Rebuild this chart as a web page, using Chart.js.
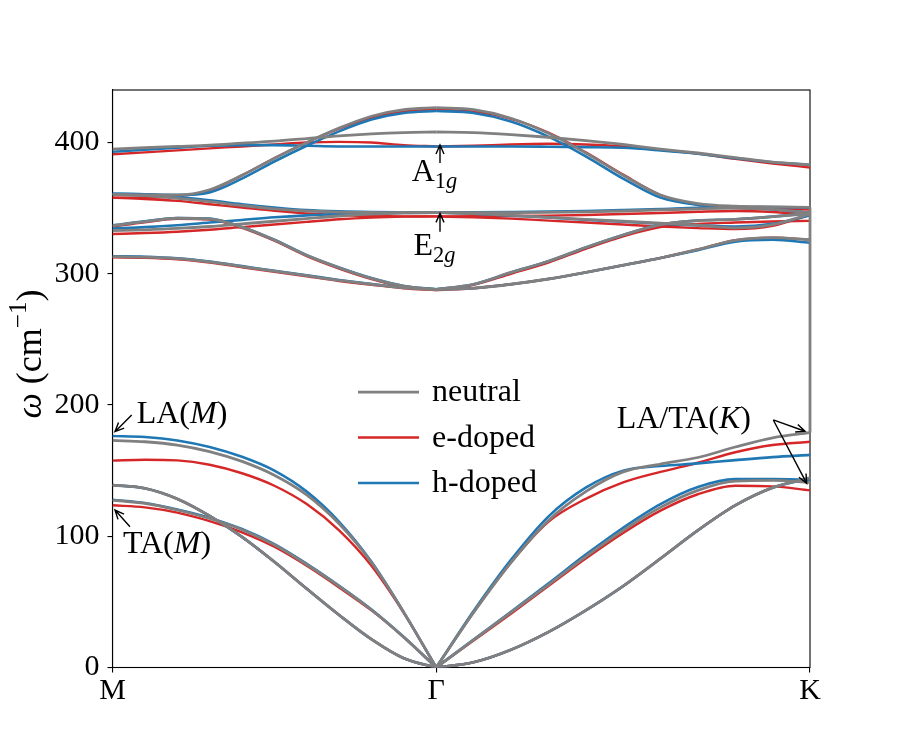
<!DOCTYPE html>
<html><head><meta charset="utf-8">
<script src="https://cdn.jsdelivr.net/npm/chart.js@4.4.0/dist/chart.umd.min.js"></script>
<style>html,body{margin:0;padding:0;background:#fff;} canvas{display:block;}</style>
</head><body>
<canvas id="c" width="900" height="750" style="width:900px;height:750px"></canvas>
<script>
// ---- path coordinates (M = 0, Gamma = 1, K = 1 + 2/sqrt(3)) ----
const qMG = [0, 0.1, 0.2, 0.3, 0.4, 0.5, 0.6, 0.7, 0.8, 0.9, 1.0];
const qGK = [1.0, 1.1155, 1.2309, 1.3464, 1.4619, 1.5774, 1.6928, 1.8083, 1.9238, 2.0392, 2.1547];
const xTickValues = [0, 1, 2.1547];
const xTickLabels = ['M', 'Γ', 'K'];
const yTickValues = [0, 100, 200, 300, 400];
const seriesNames = ['neutral', 'e-doped', 'h-doped'];

// branches: ZA, TA, LA, O1..O6  (cm^-1)
const neutralMG = [
  [139, 136.5, 128.5, 115.5, 99.5, 80.5, 60, 40, 21.5, 7, 0],
  [127.6, 125, 120, 113.5, 105, 93.5, 78.5, 62, 44, 23, 0],
  [173, 172, 169.5, 164.5, 157, 146.5, 131.5, 109.5, 80, 42, 0],
  [313, 312.7, 311.5, 309, 305.5, 302, 298.5, 295, 292, 289.3, 288],
  [336.6, 339.7, 342.3, 341.8, 335.5, 325.7, 314, 304.6, 296.5, 290.5, 288],
  [332.8, 333.5, 334.5, 336, 338, 340, 342, 344, 345.5, 346.3, 346.5],
  [360.5, 359.5, 357.5, 355, 352, 349.5, 347.8, 347, 346.7, 346.5, 346.5],
  [360.5, 360, 360, 364, 375, 388, 400, 411, 420, 425, 426.5],
  [395, 396, 397, 398, 399.5, 401, 403, 405, 406.5, 407.5, 408]
];
const neutralGK = [
  [0, 4, 13.5, 27, 43.5, 62, 83, 104.5, 123.5, 137, 144.5],
  [0, 21, 42, 63, 84.5, 104.5, 122, 135, 142, 142.5, 141],
  [0, 42, 80, 112, 134, 149, 155, 160, 168, 175, 179],
  [288, 289, 292, 296, 301, 306.5, 312, 318.5, 325.5, 327.5, 326],
  [288, 292, 301, 309.5, 320, 329.5, 337.5, 340.5, 341.5, 343.5, 346],
  [346.5, 346.5, 346.6, 346.8, 347.2, 347.8, 348.6, 349.5, 350, 349, 346.5],
  [346.5, 345.8, 344.5, 343, 341.5, 340, 338.5, 337, 335, 337.5, 345.5],
  [426.5, 425, 418.5, 407, 392, 375, 360, 353.5, 351.5, 351, 350.5],
  [408, 407.5, 406, 404, 401.5, 398.5, 395, 392, 388.5, 385, 383]
];
const neutralJumpK = [179, 350.5];

const eDopedMG = [
  [139, 136.5, 128.5, 115.5, 99.5, 80.5, 60, 40, 21.5, 7, 0],
  [123.6, 122, 118, 111.5, 103, 92, 77.5, 61, 43.5, 23, 0],
  [157.6, 158.3, 157.8, 154.5, 148, 138.5, 124.5, 104.5, 77.5, 41.5, 0],
  [312.5, 312.2, 311, 308.5, 305, 301.5, 298, 294.5, 291.5, 289, 287.5],
  [336, 339.2, 341.8, 341.3, 335, 325.2, 313.5, 304, 296, 290, 287.5],
  [330.3, 331, 332, 333.5, 335.5, 337.5, 339.5, 341.5, 342.8, 343.5, 343.7],
  [358, 357, 355.5, 353, 350.5, 348, 346, 344.8, 344, 343.7, 343.7],
  [358, 358, 359, 363.5, 375, 388, 400, 410.5, 419, 423.5, 425],
  [391, 392.5, 394, 395.5, 397, 398.5, 400, 400.5, 400, 398, 397]
];
const eDopedGK = [
  [0, 4, 13.5, 27, 43.5, 62, 83, 104.5, 123.5, 137, 144.5],
  [0, 20.5, 41, 62, 83, 102.5, 119.5, 132, 138.5, 138, 135],
  [0, 42, 80, 111, 128.5, 141, 149, 156, 164, 169.5, 172],
  [287.5, 289, 292, 296, 301, 306.5, 312, 318.5, 325.5, 327.5, 326],
  [287.5, 291.5, 300, 308.5, 319, 328.5, 335.5, 338, 339, 339.8, 340.3],
  [343.7, 343.8, 344, 344.3, 344.8, 345.5, 346.3, 347.2, 347.8, 347, 345],
  [343.7, 343, 342, 340.5, 339, 337.5, 336, 334.8, 334, 336.5, 345],
  [425, 423.5, 418, 407.5, 392.5, 375.5, 360, 352.5, 350, 349.5, 349],
  [397, 397.5, 398.5, 399, 398.5, 397, 394.5, 391.5, 387.5, 384, 381]
];

const hDopedMG = [
  [139, 136.5, 128.5, 115.5, 99.5, 80.5, 60, 40, 21.5, 7, 0],
  [127.8, 125.3, 120.3, 114, 105.5, 94, 79, 62.3, 44.2, 23.2, 0],
  [176.4, 175.6, 173, 168, 160.5, 150, 134, 111, 80.5, 42, 0],
  [313.3, 313, 311.8, 309.3, 305.8, 302.3, 298.8, 295.3, 292.2, 289.5, 288.2],
  [336.8, 339.9, 342.5, 342, 335.7, 325.9, 314.2, 304.8, 296.7, 290.7, 288.2],
  [334.5, 335.5, 337, 339, 341, 343, 344.5, 345.5, 346.2, 346.6, 346.7],
  [361, 360.5, 358.5, 356, 353, 350.5, 348.5, 347.5, 347, 346.8, 346.7],
  [361, 360.5, 360, 362, 372.5, 385.5, 397.5, 408.5, 417.5, 422.5, 424],
  [393, 394.5, 396, 397.5, 398, 398, 397.5, 397, 397, 397, 397]
];
const hDopedGK = [
  [0, 4, 13.5, 27, 43.5, 62, 83, 104.5, 123.5, 137, 144],
  [0, 21.3, 42.5, 64, 86, 106.5, 124.5, 137.5, 143.5, 143.5, 143],
  [0, 43, 82, 115, 137, 150, 153.5, 155.5, 158, 160.3, 162],
  [288.2, 289, 292, 296, 301, 306.5, 312, 318, 324.5, 326, 323.5],
  [288.2, 292, 301, 309.5, 320, 329.5, 337.5, 340.5, 341.5, 343.5, 346],
  [346.7, 346.8, 347, 347.3, 347.8, 348.5, 349.3, 350.2, 350.5, 349, 346.5],
  [346.7, 345.8, 344.3, 342.8, 341.2, 339.6, 338.2, 336.8, 336, 338, 344.5],
  [424, 422.5, 416, 404.5, 389.5, 372.5, 358, 352.5, 351, 350.8, 350.5],
  [397, 397, 397, 396.8, 396.5, 396, 394, 391.5, 388, 385, 383]
];

// ---- styling ----
const FONT = '"Liberation Serif", "Times New Roman", serif';
const FS = 30;       // tick labels
const FS_TXT = 32;   // annotations / legend
const FS_YL = 36;    // y-axis label
const colors = { neutral: '#808080', edoped: '#d62728', hdoped: '#1f77b4' };
const widths = { neutral: 2.8, edoped: 2.4, hdoped: 2.6 };

function branchSets(arrs, q, label, color, width, order) {
  return arrs.map(vals => ({
    label: label,
    data: vals.map((v, i) => ({ x: q[i], y: v })),
    borderColor: color, borderWidth: width, pointRadius: 0, fill: false,
    cubicInterpolationMode: 'monotone', order: order, clip: 0
  }));
}

const datasets = [].concat(
  branchSets(neutralMG, qMG, seriesNames[0], colors.neutral, widths.neutral, 0),
  branchSets(neutralGK, qGK, seriesNames[0], colors.neutral, widths.neutral, 0),
  [{ label: seriesNames[0], data: neutralJumpK.map(v => ({ x: qGK[qGK.length - 1], y: v })),
     borderColor: colors.neutral, borderWidth: widths.neutral, pointRadius: 0, fill: false, order: 0, clip: false }],
  branchSets(hDopedMG, qMG, seriesNames[2], colors.hdoped, widths.hdoped, 1),
  branchSets(hDopedGK, qGK, seriesNames[2], colors.hdoped, widths.hdoped, 1),
  branchSets(eDopedMG, qMG, seriesNames[1], colors.edoped, widths.edoped, 2),
  branchSets(eDopedGK, qGK, seriesNames[1], colors.edoped, widths.edoped, 2)
);

function drawRich(ctx, parts, x, y, align, size) {
  let w = 0;
  const items = parts.map(p => {
    const s = (p.sub || p.sup) ? size * 0.7 : size;
    const font = (p.it ? 'italic ' : '') + s + 'px ' + FONT;
    ctx.font = font;
    const tw = ctx.measureText(p.t).width;
    w += tw;
    return { p, font, tw };
  });
  let cx = align === 'center' ? x - w / 2 : (align === 'right' ? x - w : x);
  ctx.textAlign = 'left';
  ctx.textBaseline = 'alphabetic';
  items.forEach(it => {
    ctx.font = it.font;
    const dy = it.p.sub ? size * 0.22 : (it.p.sup ? -size * 0.42 : 0);
    ctx.fillText(it.p.t, cx, y + dy);
    cx += it.tw;
  });
}

function drawArrow(ctx, x1, y1, x2, y2) {
  const ang = Math.atan2(y2 - y1, x2 - x1);
  const hl = 9, hw = 4;
  ctx.beginPath();
  ctx.moveTo(x1, y1); ctx.lineTo(x2, y2);
  ctx.moveTo(x2 - hl * Math.cos(ang) + hw * Math.sin(ang), y2 - hl * Math.sin(ang) - hw * Math.cos(ang));
  ctx.lineTo(x2, y2);
  ctx.lineTo(x2 - hl * Math.cos(ang) - hw * Math.sin(ang), y2 - hl * Math.sin(ang) + hw * Math.cos(ang));
  ctx.stroke();
}

// annotations in data coordinates
const annotations = [
  { parts: [{ t: 'A' }, { t: '1', sub: true }, { t: 'g', sub: true, it: true }], tx: 0.9947, ty: 370.7, align: 'center',
    arrows: [[1.0117, 384.4, 1.0117, 398.1]] },
  { parts: [{ t: 'E' }, { t: '2', sub: true }, { t: 'g', sub: true, it: true }], tx: 0.9947, ty: 314.3, align: 'center',
    arrows: [[1.0117, 332, 1.0117, 346]] },
  { parts: [{ t: 'LA(' }, { t: 'M', it: true }, { t: ')' }], tx: 0.0748, ty: 186.3, align: 'left',
    arrows: [[0.0593, 192.4, 0.0077, 179.7]] },
  { parts: [{ t: 'TA(' }, { t: 'M', it: true }, { t: ')' }], tx: 0.0324, ty: 87.2, align: 'left',
    arrows: [[0.054, 107.3, 0.0077, 120]] },
  { parts: [{ t: 'LA/TA(' }, { t: 'K', it: true }, { t: ')' }], tx: 1.5576, ty: 182.5, align: 'left',
    arrows: [[2.0413, 188.6, 2.1392, 180], [2.0413, 188.6, 2.1445, 140.3]] }
];

const framePlugin = {
  id: 'frame',
  beforeDatasetsDraw(chart) {
    const { ctx, chartArea: a } = chart;
    ctx.save();
    ctx.strokeStyle = '#000'; ctx.lineWidth = 1.1;
    ctx.strokeRect(a.left, a.top, a.right - a.left, a.bottom - a.top);
    ctx.restore();
  }
};

const overlayPlugin = {
  id: 'overlay',
  afterDraw(chart) {
    const { ctx, chartArea: a } = chart;
    const xs = chart.scales.x, ys = chart.scales.y;
    ctx.save();
    ctx.fillStyle = '#000'; ctx.strokeStyle = '#000'; ctx.lineWidth = 1.4;
    annotations.forEach(an => {
      drawRich(ctx, an.parts, xs.getPixelForValue(an.tx), ys.getPixelForValue(an.ty), an.align, FS_TXT);
      an.arrows.forEach(ar => drawArrow(ctx, xs.getPixelForValue(ar[0]), ys.getPixelForValue(ar[1]),
                                         xs.getPixelForValue(ar[2]), ys.getPixelForValue(ar[3])));
    });
    // legend (inside axes, no frame)
    const leg = [[seriesNames[0], colors.neutral, widths.neutral], [seriesNames[1], colors.edoped, widths.edoped], [seriesNames[2], colors.hdoped, widths.hdoped]];
    const lx = a.left + 0.352 * (a.right - a.left);
    const ly0 = a.top + 0.523 * (a.bottom - a.top);
    leg.forEach((e, i) => {
      const y = ly0 + i * 45.5;
      ctx.strokeStyle = e[1]; ctx.lineWidth = e[2];
      ctx.beginPath(); ctx.moveTo(lx, y); ctx.lineTo(lx + 61, y); ctx.stroke();
      ctx.fillStyle = '#000';
      ctx.font = FS_TXT + 'px ' + FONT;
      ctx.textAlign = 'left'; ctx.textBaseline = 'middle';
      ctx.fillText(e[0], lx + 74, y + 1);
    });
    // y-axis label
    ctx.translate(30, 354);
    ctx.rotate(-Math.PI / 2);
    ctx.fillStyle = '#000';
    drawRich(ctx, [{ t: 'ω', it: true }, { t: ' (cm' }, { t: '−1', sup: true }, { t: ')' }], 0, 11, 'center', FS_YL);
    ctx.restore();
  }
};

new Chart(document.getElementById('c'), {
  type: 'line',
  data: { datasets },
  options: {
    responsive: false, animation: false, devicePixelRatio: 1,
    layout: { padding: { left: 0, right: 90, top: 90, bottom: 0 } },
    plugins: { legend: { display: false }, tooltip: { enabled: false } },
    scales: {
      x: {
        type: 'linear', min: 0, max: xTickValues[2],
        afterBuildTicks: s => { s.ticks = xTickValues.map(v => ({ value: v })); },
        afterFit: s => { s.height = 82.5; },
        ticks: { callback: (v, i) => xTickLabels[i], font: { family: FONT, size: FS }, color: '#000', padding: 1, maxRotation: 0, autoSkip: false },
        grid: { drawOnChartArea: false, drawTicks: true, tickLength: 5, color: '#000', lineWidth: 1.1 },
        border: { display: true, color: '#000', width: 1.1 }
      },
      y: {
        type: 'linear', min: 0, max: 440,
        afterBuildTicks: s => { s.ticks = yTickValues.map(v => ({ value: v })); },
        afterFit: s => { s.width = 112.5; },
        ticks: { font: { family: FONT, size: FS }, color: '#000', padding: 8 },
        grid: { drawOnChartArea: false, drawTicks: true, tickLength: 5, color: '#000', lineWidth: 1.1 },
        border: { display: true, color: '#000', width: 1.1 }
      }
    }
  },
  plugins: [framePlugin, overlayPlugin]
});
</script>
</body></html>
